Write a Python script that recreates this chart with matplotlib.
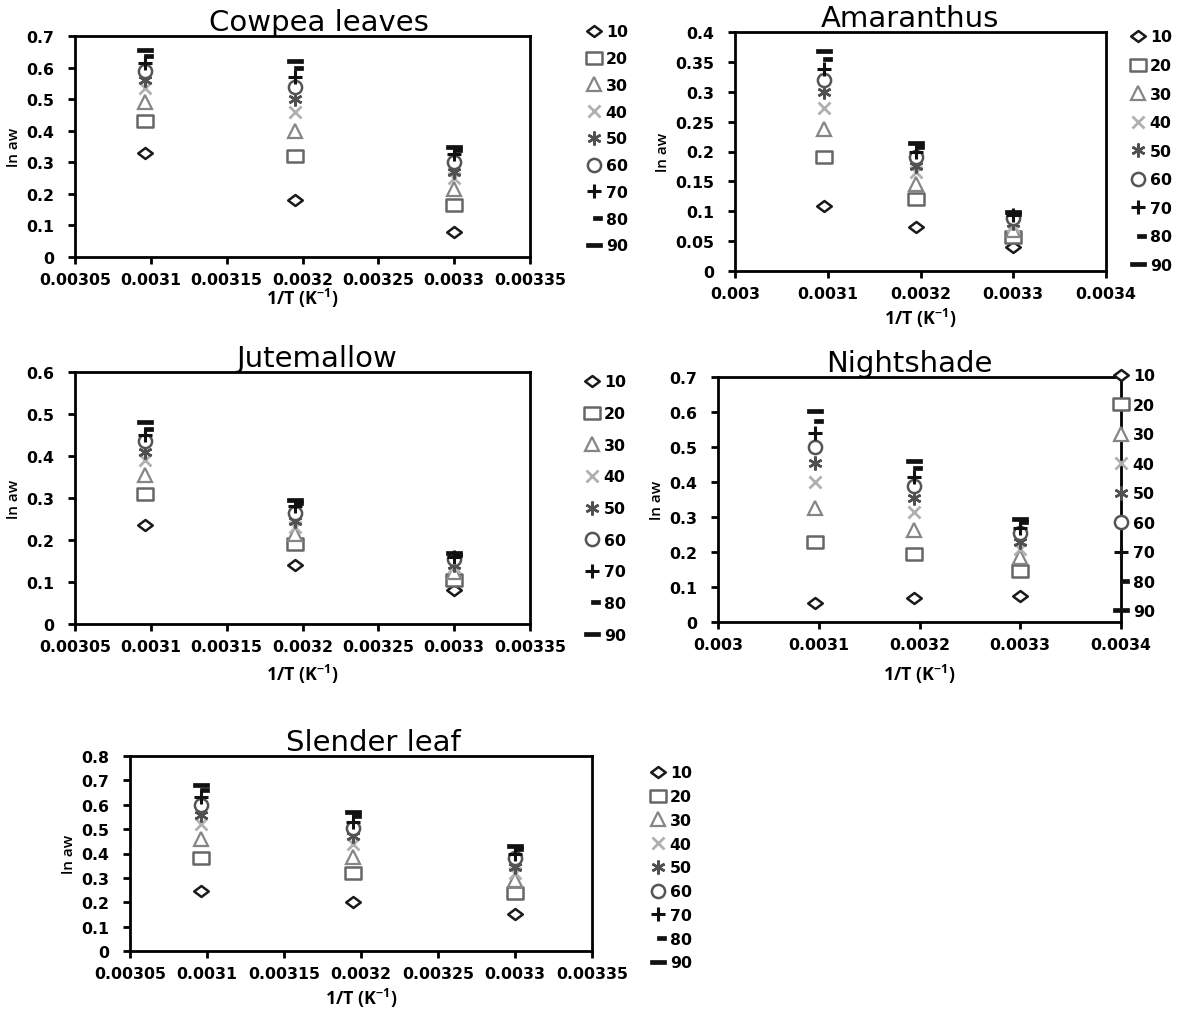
import numpy as np
import matplotlib
matplotlib.use("Agg")
import matplotlib.pyplot as plt
from matplotlib.path import Path
from matplotlib.ticker import FixedLocator

plt.rcParams['font.family'] = ['DejaVu Sans']
plt.rcParams['mathtext.fontset'] = 'custom'
plt.rcParams['mathtext.rm'] = 'Open Sans'
plt.rcParams['mathtext.bf'] = 'Open Sans:bold'

# Inverse absolute temperature (1/K) for 50, 40 and 30 degC
inv_T = [0.003096, 0.003195, 0.0033]
# Moisture content series labels
series_labels = ['10', '20', '30', '40', '50', '60', '70', '80', '90']

# ln aw values, one row per series (10..90), columns follow inv_T
cowpea = [
    [0.33, 0.18, 0.08],
    [0.43, 0.32, 0.165],
    [0.49, 0.40, 0.215],
    [0.535, 0.46, 0.25],
    [0.56, 0.50, 0.27],
    [0.59, 0.54, 0.30],
    [0.615, 0.57, 0.325],
    [0.638, 0.60, 0.34],
    [0.655, 0.62, 0.35],
]
amaranthus = [
    [0.108, 0.074, 0.040],
    [0.19, 0.12, 0.057],
    [0.237, 0.145, 0.068],
    [0.272, 0.165, 0.075],
    [0.30, 0.175, 0.080],
    [0.32, 0.19, 0.088],
    [0.338, 0.20, 0.093],
    [0.355, 0.208, 0.096],
    [0.368, 0.215, 0.098],
]
jutemallow = [
    [0.235, 0.14, 0.08],
    [0.31, 0.19, 0.105],
    [0.355, 0.215, 0.125],
    [0.39, 0.23, 0.135],
    [0.41, 0.245, 0.14],
    [0.435, 0.265, 0.155],
    [0.45, 0.28, 0.16],
    [0.465, 0.288, 0.165],
    [0.48, 0.295, 0.168],
]
nightshade = [
    [0.053, 0.07, 0.075],
    [0.228, 0.193, 0.147],
    [0.327, 0.263, 0.185],
    [0.40, 0.315, 0.21],
    [0.455, 0.355, 0.23],
    [0.50, 0.39, 0.255],
    [0.54, 0.415, 0.27],
    [0.573, 0.44, 0.285],
    [0.603, 0.46, 0.295],
]
slender = [
    [0.245, 0.20, 0.15],
    [0.38, 0.32, 0.24],
    [0.46, 0.385, 0.29],
    [0.52, 0.44, 0.32],
    [0.56, 0.47, 0.345],
    [0.60, 0.505, 0.38],
    [0.63, 0.53, 0.40],
    [0.66, 0.555, 0.42],
    [0.68, 0.57, 0.43],
]

W, H = 1177, 1012
fig = plt.figure(figsize=(W / 100, H / 100), dpi=100)


def closed(verts):
    verts = list(verts) + [verts[0]]
    codes = [Path.MOVETO] + [Path.LINETO] * (len(verts) - 2) + [Path.CLOSEPOLY]
    return Path(verts, codes)


# Slightly wide diamond/square, bar-shaped markers (long dash and shorter, right-shifted dash)
wide_diamond = closed([(-1, 0), (0, 0.75), (1, 0), (0, -0.75)])
wide_square = closed([(-1, -0.85), (1, -0.85), (1, 0.85), (-1, 0.85)])
long_dash = closed([(-1, -0.3), (1, -0.3), (1, 0.3), (-1, 0.3)])
short_dash = closed([(-0.15, -0.32), (1, -0.32), (1, 0.32), (-0.15, 0.32)])

styles = [
    dict(marker=wide_diamond, ms=10.5, mfc='white', mec='#1a1a1a', mew=1.8),
    dict(marker=wide_square, ms=11, mfc='white', mec='#666666', mew=1.8),
    dict(marker='^', ms=10, mfc='white', mec='#858585', mew=1.6),
    dict(marker='x', ms=8.5, mec='#b0b0b0', mew=2.0),
    dict(marker=(6, 2, 0), ms=10, mec='#505050', mew=1.8),
    dict(marker='o', ms=9.5, mfc='white', mec='#555555', mew=1.8),
    dict(marker='+', ms=10, mec='#111111', mew=2.2),
    dict(marker=short_dash, ms=11, mfc='#111111', mec='#111111', mew=0.5),
    dict(marker=long_dash, ms=11, mfc='#111111', mec='#111111', mew=0.5),
]

panels = [
    # title, data, axes box px (left, top, right, bottom), xlim, xstep, ylim, ystep,
    # legend (marker centre x, first row y, row spacing), title x shift px, xlabel pad
    ('Cowpea leaves', cowpea, (75, 37, 530, 258), (0.00305, 0.00335), 0.00005, (0, 0.7), 0.1,
     (594, 33, 26.8), 16, -1),
    ('Amaranthus', amaranthus, (735, 33, 1106, 272), (0.003, 0.0034), 0.0001, (0, 0.4), 0.05,
     (1138, 38, 28.6), -11, 3.5),
    ('Jutemallow', jutemallow, (75, 373, 530, 625), (0.00305, 0.00335), 0.00005, (0, 0.6), 0.1,
     (592, 383, 31.7), 14, 5.3),
    ('Nightshade', nightshade, (718, 378, 1121, 623), (0.003, 0.0034), 0.0001, (0, 0.7), 0.1,
     (1121, 377, 29.5), -10, 7),
    ('Slender leaf', slender, (130, 757, 592, 952), (0.00305, 0.00335), 0.00005, (0, 0.8), 0.1,
     (658, 774, 23.8), 12, 3),
]

fs_pt = 11.3
fs_px = fs_pt * 100 / 72
hl = 1.0  # legend handle length in font-size units

for (title, data, (l, t, r, b), xlim, xstep, ylim, ystep, (lx, ly, lsp),
     tdx, xlpad) in panels:
    ax = fig.add_axes([l / W, 1 - b / H, (r - l) / W, (b - t) / H])
    for vals, lab, st in zip(data, series_labels, styles):
        ax.plot(inv_T, vals, linestyle='none', label=lab, clip_on=False, **st)
    ax.set_xlim(*xlim)
    ax.set_ylim(*ylim)
    xt = np.round(np.arange(xlim[0], xlim[1] + xstep / 2, xstep), 6)
    yt = np.round(np.arange(ylim[0], ylim[1] + ystep / 2, ystep), 4)
    ax.xaxis.set_major_locator(FixedLocator(xt))
    ax.yaxis.set_major_locator(FixedLocator(yt))
    ax.set_xticklabels(['{:g}'.format(v) for v in xt], fontweight='bold', fontsize=fs_pt)
    ax.set_yticklabels(['{:g}'.format(v) for v in yt], fontweight='bold', fontsize=fs_pt)
    ax.tick_params(direction='out', length=5, width=2, color='black')
    ax.tick_params(axis='x', pad=6)
    ax.tick_params(axis='y', pad=10)
    for sp in ax.spines.values():
        sp.set_linewidth(2)
        sp.set_color('black')
    ax.set_title(title, fontsize=21, pad=3, x=0.5 + tdx / (r - l))
    ax.set_xlabel('1/T (K$^{\\mathbf{-1}}$)', fontsize=12.8, fontweight='bold',
                  family='Open Sans', labelpad=xlpad)
    ax.set_ylabel('ln aw', fontsize=11, family='Open Sans', fontweight='semibold', labelpad=4)

    row_h = fs_px * 0.96
    leg = ax.legend(loc='upper left',
                    bbox_to_anchor=((lx - hl * fs_px / 2) / W, 1 - (ly - row_h / 2) / H),
                    bbox_transform=fig.transFigure, frameon=False, borderpad=0,
                    borderaxespad=0, handlelength=hl, handletextpad=0.25,
                    labelspacing=(lsp - row_h) / fs_px,
                    prop={'weight': 'bold', 'size': fs_pt})
    leg.set_zorder(5)

fig.savefig('out.png', dpi=100)
